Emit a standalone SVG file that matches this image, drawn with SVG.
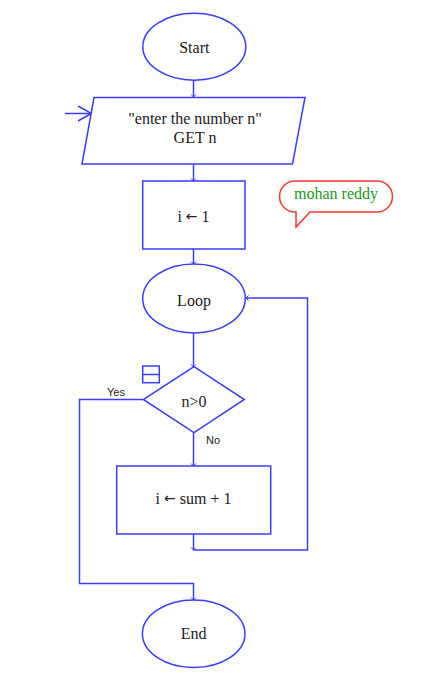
<svg xmlns="http://www.w3.org/2000/svg" width="447" height="698" viewBox="0 0 447 698">
<style>
.sh{fill:#fff;stroke:#3c3cff;stroke-width:1.5}
.cn{fill:none;stroke:#3c3cff;stroke-width:1.5}
.t{font-family:"Liberation Serif",serif;font-size:16px;fill:#222;text-anchor:middle;dominant-baseline:central}
.ar{font-family:"DejaVu Sans",sans-serif;font-size:14px}
.s{font-family:"Liberation Sans",Arial,sans-serif;font-size:11px;fill:#222}
</style>
<defs>
<marker id="a" markerUnits="userSpaceOnUse" markerWidth="8" markerHeight="8" viewBox="-4 -4 8 8" refX="0" refY="0" orient="auto">
<path d="M-2.5,-2.5 L0,0 L-2.5,2.5" fill="none" stroke="#3c3cff" stroke-width="1"/>
</marker>
</defs>
<g id="connectors">
<line class="cn" x1="193.5" y1="80" x2="193.5" y2="97" marker-end="url(#a)"/>
<line class="cn" x1="193.5" y1="164" x2="193.5" y2="181" marker-end="url(#a)"/>
<line class="cn" x1="193.5" y1="249" x2="193.5" y2="264" marker-end="url(#a)"/>
<line class="cn" x1="193.5" y1="333" x2="193.5" y2="367" marker-end="url(#a)"/>
<line class="cn" x1="193.5" y1="433" x2="193.5" y2="466" marker-end="url(#a)"/>
<line class="cn" x1="193.5" y1="534" x2="193.5" y2="550" marker-end="url(#a)"/>
<polyline class="cn" points="193.5,550 307.5,550 307.5,298 246,298" marker-end="url(#a)"/>
<polyline class="cn" points="143,399.5 79.5,399.5 79.5,583.5 193.5,583.5 193.5,600" marker-end="url(#a)"/>
<g id="entry">
<line class="cn" x1="65" y1="113.5" x2="91.5" y2="113.5"/>
<polyline class="cn" points="78,106 91.5,113.5 78,121"/>
</g>
<text class="s" x="107" y="396">Yes</text>
<text class="s" x="206" y="444">No</text>
</g>
<g id="start">
<ellipse class="sh" cx="194.3" cy="46.7" rx="51.5" ry="33.5"/>
<text class="t" x="194.3" y="47.5">Start</text>
</g>
<g id="input">
<polygon class="sh" points="94,97.5 305,97.5 292.5,164 82,164"/>
<text class="t" x="195" y="118">"enter the number n"</text>
<text class="t" x="195" y="137">GET n</text>
</g>
<g id="init">
<rect class="sh" x="142.7" y="181" width="102.3" height="68"/>
<text class="t" x="193.5" y="216">i <tspan class="ar">←</tspan> 1</text>
</g>
<g id="loop">
<ellipse class="sh" cx="194" cy="298.5" rx="51.3" ry="34.5"/>
<text class="t" x="194" y="300">Loop</text>
</g>
<g id="decision">
<polygon class="sh" points="194,366.7 244.3,399.5 194,432.7 143.3,399.5"/>
<text class="t" x="194" y="401">n&gt;0</text>
<g id="icon">
<rect x="142.7" y="366" width="16.6" height="16.7" fill="#fff" stroke="#3c3cff" stroke-width="1.5"/>
<line x1="142.7" y1="374.5" x2="159.3" y2="374.5" stroke="#3c3cff" stroke-width="1.5"/>
</g>
</g>
<g id="update">
<rect class="sh" x="116.7" y="466" width="154" height="68"/>
<text class="t" x="193.5" y="498">i <tspan class="ar">←</tspan> sum + 1</text>
</g>
<g id="end">
<ellipse class="sh" cx="193.7" cy="633.7" rx="51.3" ry="33.7"/>
<text class="t" x="193.7" y="633">End</text>
</g>
<g id="note">
<path d="M295,181 H377 A15.5,15.5 0 0 1 377,212 H310 L296,227 L296,212 H295 A15.5,15.5 0 0 1 295,181 Z" fill="#fff" stroke="#ff3333" stroke-width="1.5"/>
<text class="t" x="336" y="193" style="fill:#1a9a1a">mohan reddy</text>
</g>
</svg>
